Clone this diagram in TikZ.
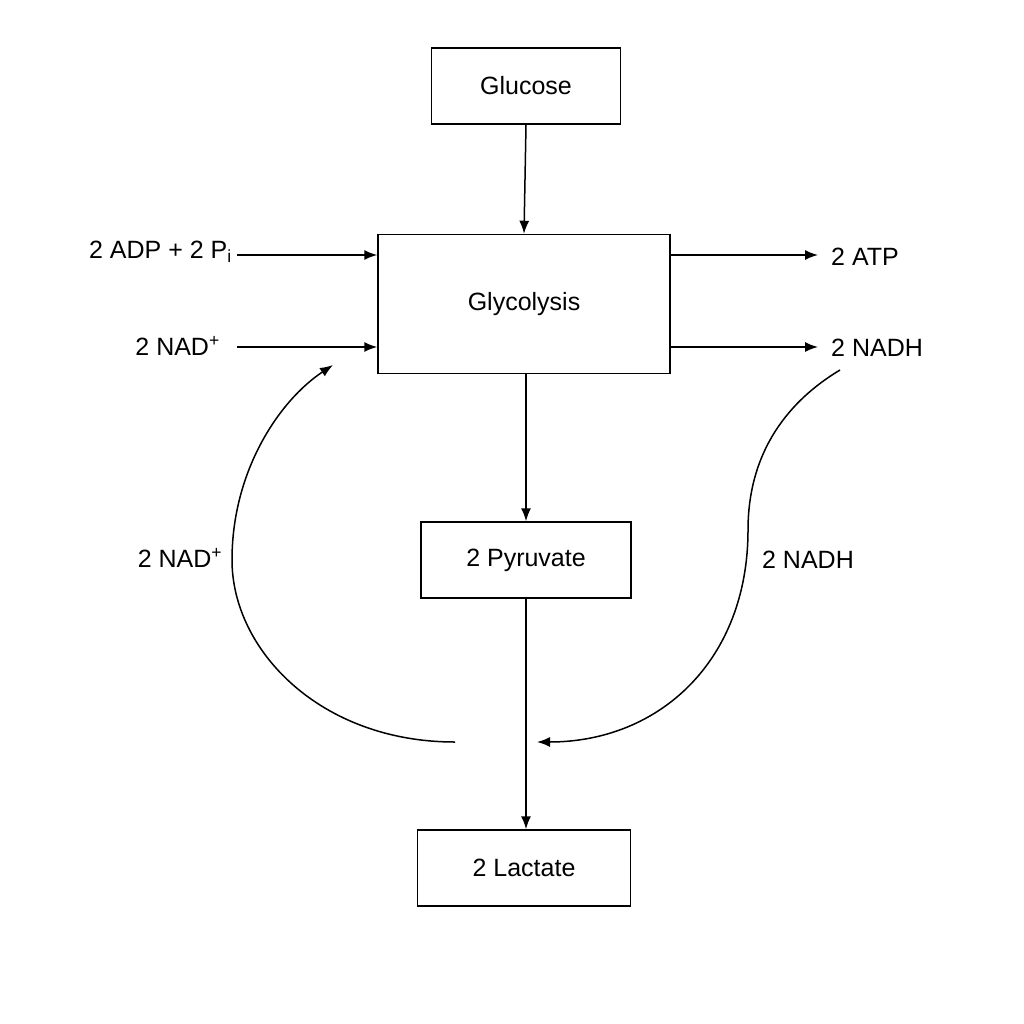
\documentclass[tikz,border=0pt]{standalone}
\usepackage{fontspec}
\setmainfont{Liberation Sans}
\usetikzlibrary{arrows.meta}
\begin{document}
\begin{tikzpicture}[x=1pt,y=-1pt,
  box/.style={draw,line width=1.5pt,minimum width=#1,inner sep=0pt,font=\fontsize{25}{30}\selectfont},
  lab/.style={font=\fontsize{25}{30}\selectfont,inner sep=0pt},
  arr/.style={-{Latex[length=13pt,width=10pt]},line width=1.5pt}]
\useasboundingbox (0,0) rectangle (1024,1024);
\node[box=189pt,minimum height=76pt] (glu) at (526,86) {Glucose};
\node[box=292pt,minimum height=139pt] (gly) at (524,304) {Glycolysis};
\node[box=210pt,minimum height=76pt] (pyr) at (526,560) {2 Pyruvate};
\node[box=213pt,minimum height=76pt] (lac) at (524,868) {2 Lactate};
\draw[arr] (glu.south) -- (gly.north);
\draw[arr] (gly.south -| pyr.north) -- (pyr.north);
\draw[arr] (pyr.south) -- (lac.north -| pyr.south);
\node[lab,anchor=east] (adp) at (232,252) {2 ADP + 2 P\textsubscript{i}};
\node[lab,anchor=east] (nad) at (220,346) {2 NAD\textsuperscript{+}};
\node[lab,anchor=west] (atp) at (831,257) {2 ATP};
\node[lab,anchor=west] (nadh) at (831,348) {2 NADH};
\coordinate (a1) at (237,255); \coordinate (a2) at (237,347);
\draw[arr] (a1) -- (a1 -| gly.west);
\draw[arr] (a2) -- (a2 -| gly.west);
\coordinate (b1) at (gly.east |- atp); \coordinate (b2) at (gly.east |- nadh);
\draw[arr] (gly.east |- 0,255) -- (818,255);
\draw[arr] (gly.east |- 0,347) -- (818,347);
\coordinate (ls) at (455,742);
\coordinate (rs) at (840,370);
\coordinate (le) at (333,365);
\coordinate (re) at (537,742);
\draw[arr] (ls) .. controls (320,742) and (232,650) .. (232,560) .. controls (232,470) and (280,400) .. (le);
\draw[arr] (rs) .. controls (790,400) and (748,450) .. (748,530) .. controls (748,660) and (660,742) .. (re);
\node[lab] (nadl) at (180,558) {2 NAD\textsuperscript{+}};
\node[lab] (nadhr) at (808,560) {2 NADH};
\end{tikzpicture}
\end{document}
